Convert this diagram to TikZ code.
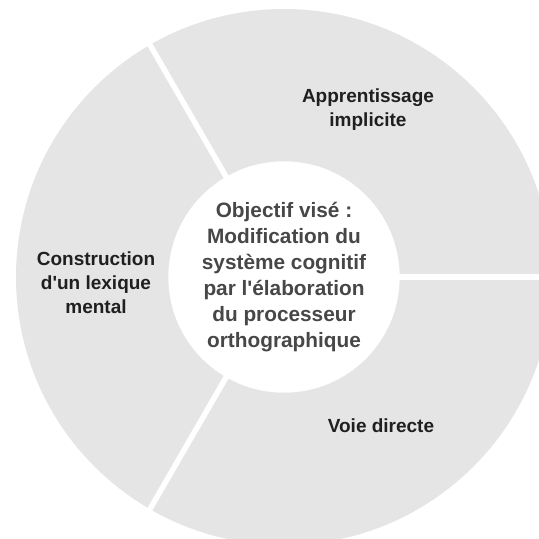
\documentclass[tikz,border=0pt]{standalone}
\usepackage{fontspec}
\setmainfont{Liberation Sans}

\tikzstyle{ring} = [fill=black!10]
\tikzstyle{gap} = [draw=white, line width=5.5pt]
\tikzstyle{goal} = [circle, fill=white, minimum size=224pt, text=black!72, align=center, font=\bfseries\fontsize{20.8}{26}\selectfont]
\tikzstyle{part} = [text=black!88, align=center, font=\bfseries\fontsize{19}{24}\selectfont]

\begin{document}
\begin{tikzpicture}[x=1pt, y=-1pt]
    \useasboundingbox (0,0) rectangle (539,539);
    \clip (0,0) rectangle (539,539);
    % Ring and its three parts
    \fill [ring] (284,277) circle [radius=268];
    \foreach \a in {0,120,240}
        \draw [gap] (284,277) -- ++(\a:320);
    % Place nodes
    \node [goal] (goal) at (284,277) {Objectif visé :\\Modification du\\système cognitif\\par l\textquotesingle élaboration\\du processeur\\orthographique};
    \node [part] (implicit) at (368,110) {Apprentissage\\implicite};
    \node [part] (lexicon) at (96,283) {Construction\\d\textquotesingle un lexique\\mental};
    \node [part] (direct) at (381,426) {Voie directe};
\end{tikzpicture}
\end{document}
